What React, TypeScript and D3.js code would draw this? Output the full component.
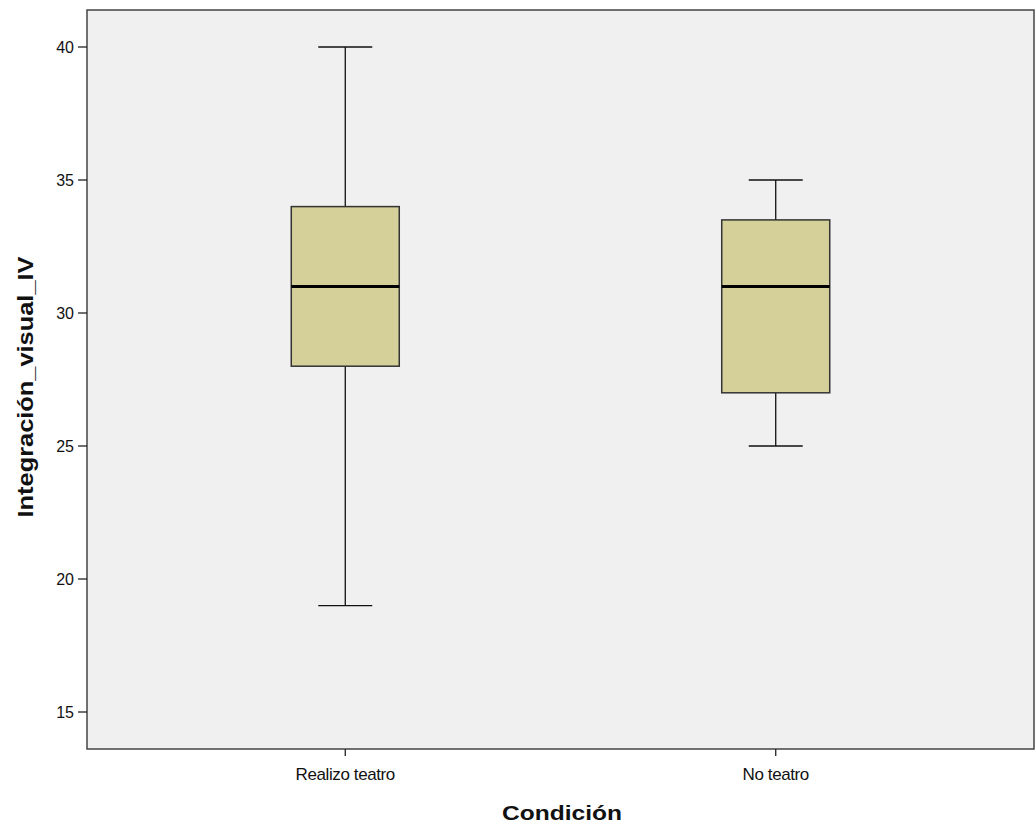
import React, { useEffect, useRef } from 'react';
import * as d3 from 'd3';

const categories = ['Realizo teatro', 'No teatro'];
const mins = [19, 25];
const q1s = [28, 27];
const medians = [31, 31];
const q3s = [34, 33.5];
const maxs = [40, 35];
const yTicks = [15, 20, 25, 30, 35, 40];

const App = () => {
  const ref = useRef<SVGSVGElement>(null);

  useEffect(() => {
    const svg = d3.select(ref.current);
    svg.selectAll('*').remove();

    const left = 87, top = 10, right = 1034, bottom = 749;
    const font = 'Liberation Sans, Arial, sans-serif';

    const x = d3.scalePoint<string>().domain(categories).range([left, right]).padding(0.6);
    const y = d3.scaleLinear().domain([15, 40]).range([712, 47]);

    svg.append('rect')
      .attr('x', 0).attr('y', 0).attr('width', 1036).attr('height', 825)
      .attr('fill', 'white');

    svg.append('rect')
      .attr('x', left).attr('y', top)
      .attr('width', right - left).attr('height', bottom - top)
      .attr('fill', '#f0f0f0');

    const boxW = 108, capW = 54;
    const data = categories.map((c, i) => ({
      c, min: mins[i], q1: q1s[i], med: medians[i], q3: q3s[i], max: maxs[i]
    }));

    const g = svg.append('g').selectAll('g').data(data).enter().append('g');

    // whiskers
    g.append('line')
      .attr('x1', d => x(d.c)!).attr('x2', d => x(d.c)!)
      .attr('y1', d => y(d.max)).attr('y2', d => y(d.min))
      .attr('stroke', '#111').attr('stroke-width', 1.3);
    g.append('line')
      .attr('x1', d => x(d.c)! - capW / 2).attr('x2', d => x(d.c)! + capW / 2)
      .attr('y1', d => y(d.max)).attr('y2', d => y(d.max))
      .attr('stroke', '#111').attr('stroke-width', 1.3);
    g.append('line')
      .attr('x1', d => x(d.c)! - capW / 2).attr('x2', d => x(d.c)! + capW / 2)
      .attr('y1', d => y(d.min)).attr('y2', d => y(d.min))
      .attr('stroke', '#111').attr('stroke-width', 1.3);

    // box
    g.append('rect')
      .attr('x', d => x(d.c)! - boxW / 2)
      .attr('y', d => y(d.q3))
      .attr('width', boxW)
      .attr('height', d => y(d.q1) - y(d.q3))
      .attr('fill', '#d5d09a')
      .attr('stroke', '#333').attr('stroke-width', 1.5);

    // median
    g.append('line')
      .attr('x1', d => x(d.c)! - boxW / 2).attr('x2', d => x(d.c)! + boxW / 2)
      .attr('y1', d => y(d.med)).attr('y2', d => y(d.med))
      .attr('stroke', '#000').attr('stroke-width', 3);

    // frame
    svg.append('rect')
      .attr('x', left).attr('y', top)
      .attr('width', right - left).attr('height', bottom - top)
      .attr('fill', 'none')
      .attr('stroke', '#444').attr('stroke-width', 1.5);

    // y ticks
    const yt = svg.append('g');
    yt.selectAll('line').data(yTicks).enter().append('line')
      .attr('x1', left - 9).attr('x2', left)
      .attr('y1', d => y(d)).attr('y2', d => y(d))
      .attr('stroke', '#222').attr('stroke-width', 1.3);
    yt.selectAll('text').data(yTicks).enter().append('text')
      .attr('x', left - 13).attr('y', d => y(d) + 6)
      .attr('text-anchor', 'end')
      .attr('font-family', font).attr('font-size', 16)
      .attr('fill', '#111')
      .text(d => d);

    // x ticks
    const xt = svg.append('g');
    xt.selectAll('line').data(categories).enter().append('line')
      .attr('x1', d => x(d)!).attr('x2', d => x(d)!)
      .attr('y1', bottom).attr('y2', bottom + 7)
      .attr('stroke', '#222').attr('stroke-width', 1.3);
    xt.selectAll('text').data(categories).enter().append('text')
      .attr('x', d => x(d)!).attr('y', bottom + 31)
      .attr('text-anchor', 'middle')
      .attr('font-family', font).attr('font-size', 17)
      .attr('letter-spacing', -0.4)
      .attr('fill', '#111')
      .text(d => d);

    svg.append('text')
      .attr('x', 562).attr('y', 820)
      .attr('text-anchor', 'middle')
      .attr('font-family', font).attr('font-size', 21).attr('font-weight', 'bold')
      .attr('textLength', 120).attr('lengthAdjust', 'spacingAndGlyphs')
      .attr('fill', '#111')
      .text('Condición');

    svg.append('text')
      .attr('transform', `translate(33, 387) rotate(-90)`)
      .attr('text-anchor', 'middle')
      .attr('font-family', font).attr('font-size', 22).attr('font-weight', 'bold')
      .attr('textLength', 261).attr('lengthAdjust', 'spacingAndGlyphs')
      .attr('fill', '#111')
      .text('Integración_visual_IV');
  }, []);

  return (
    <svg ref={ref} width={1036} height={825}
      style={{ position: 'absolute', left: 0, top: 0 }} />
  );
};

export default App;
